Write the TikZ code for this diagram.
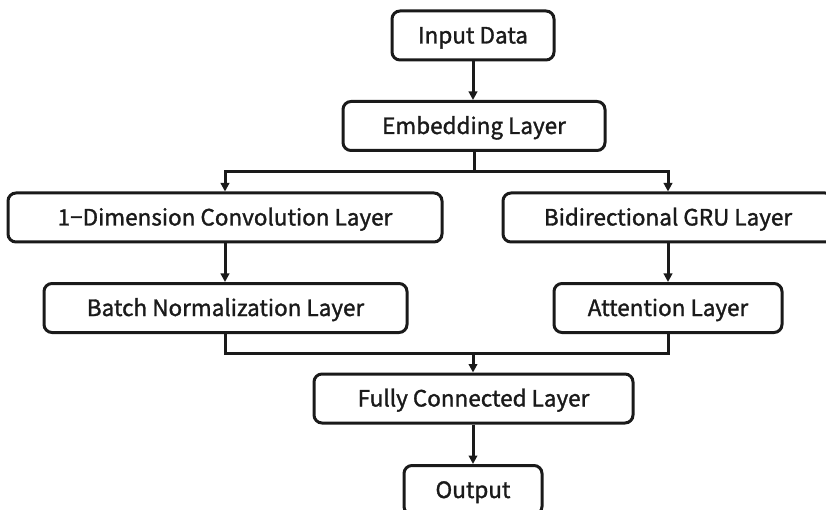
\documentclass[tikz,border=0pt]{standalone}
\usepackage{fontspec}
\newfontfamily\boxfont{Noto Sans CJK KR}[UprightFeatures={FakeBold=1.4}]
\usetikzlibrary{arrows.meta}
\definecolor{ink}{HTML}{1A1A1A}
\begin{document}
\begin{tikzpicture}[x=1pt,y=-1pt,
  box/.style={draw=ink, line width=3pt, rounded corners=8pt, minimum height=49pt,
    inner sep=0pt, text height=16pt, text depth=0pt,
    font=\boxfont\fontsize{22.5}{26}\selectfont, text=ink},
  conn/.style={draw=ink, line width=3pt},
  arr/.style={conn, -{Triangle[length=8.5pt,width=8.5pt]}}]
\useasboundingbox (0,0) rectangle (826,510);
\node[box, minimum width=162pt] (in)   at (473,35.5)  {Input Data};
\node[box, minimum width=262pt] (emb)  at (474,126)   {Embedding Layer};
\node[box, minimum width=434pt] (conv) at (225,217.5) {1−Dimension Convolution Layer};
\node[box, minimum width=330pt] (gru)  at (668,217.5) {Bidirectional GRU Layer};
\node[box, minimum width=363pt] (bn)   at (225.5,308) {Batch Normalization Layer};
\node[box, minimum width=228pt] (att)  at (668,308)   {Attention Layer};
\node[box, minimum width=319pt] (fc)   at (473.5,398.5) {Fully Connected Layer};
\node[box, minimum width=138pt] (out)  at (473,490)   {Output};
\coordinate (sp) at (474,172);
\coordinate (mg) at (473,353);
\draw[arr] (in.south) -- (in.south |- emb.north);
\draw[conn] (emb.south) -- (sp);
\draw[arr] (sp) -| (conv.north);
\draw[arr] (sp) -| (gru.north);
\draw[arr] (conv.south) -- (conv.south |- bn.north);
\draw[arr] (gru.south) -- (att.north);
\draw[conn] (bn.south -| conv.south) |- (mg);
\draw[conn] (mg) -| (att.south);
\draw[arr] (mg) -- (mg |- fc.north);
\draw[arr] (fc.south -| mg) -- (mg |- out.north);
\end{tikzpicture}
\end{document}
